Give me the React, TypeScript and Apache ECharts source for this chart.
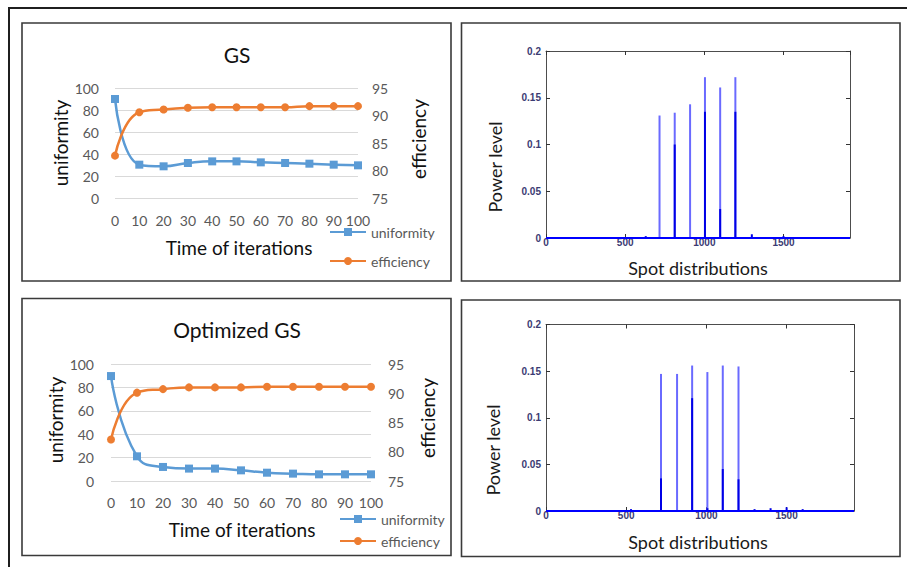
import React, { useEffect, useRef } from "react";
import * as echarts from "echarts";

// ---------- data ----------
const iterations = [0, 10, 20, 30, 40, 50, 60, 70, 80, 90, 100];
const gsUniformity = [90, 30.3, 28.8, 31.8, 33.3, 33.3, 32.4, 31.8, 31.2, 30.3, 29.7];
const gsEfficiency = [82.7, 90.6, 91.1, 91.4, 91.5, 91.5, 91.5, 91.5, 91.7, 91.7, 91.7];
const optUniformity = [89.7, 21.1, 12, 10.6, 10.6, 9.1, 7.1, 6.3, 5.7, 5.7, 5.7];
const optEfficiency = [82.1, 90.1, 90.7, 91.0, 91.0, 91.0, 91.1, 91.1, 91.1, 91.1, 91.1];

const gsSpotX = [717, 813, 910, 1004, 1100, 1196];
const gsSpotTop = [0.131, 0.134, 0.143, 0.172, 0.161, 0.172];
const gsSpotInner = [0, 0.1, 0, 0.135, 0.031, 0.135];
const gsNoiseX = [500, 630, 1300, 1400, 1500, 1600];
const gsNoiseY = [0.001, 0.002, 0.004, 0.001, 0.002, 0.001];

const optSpotX = [717, 817, 911, 1006, 1102, 1200];
const optSpotTop = [0.147, 0.147, 0.156, 0.149, 0.156, 0.155];
const optSpotInner = [0.035, 0, 0.121, 0.003, 0.045, 0.034];
const optNoiseX = [410, 530, 620, 1300, 1400, 1500, 1600];
const optNoiseY = [0.001, 0.002, 0.001, 0.002, 0.003, 0.004, 0.002];

const spotRange = [0, 1920];

// ---------- styles ----------
const FONT = 'Lato, "Liberation Sans", sans-serif';
const MFONT = '"Liberation Sans", Arial, sans-serif';
const BLUE = "#5B9BD5";
const ORANGE = "#ED7D31";
const GRAY = "#595959";
const MLAB = "#3b3b73";

const excelX = (gridIndex: number, margin: number) => ({
  type: "value",
  gridIndex,
  min: 0,
  max: 100,
  interval: 10,
  axisLine: { show: false },
  axisTick: { show: false },
  splitLine: { show: false },
  axisLabel: { color: GRAY, fontSize: 14, fontFamily: FONT, margin },
});
const excelYL = (gridIndex: number, margin: number) => ({
  type: "value",
  gridIndex,
  position: "left",
  min: 0,
  max: 100,
  interval: 20,
  axisLine: { show: false },
  axisTick: { show: false },
  splitLine: { show: true, lineStyle: { color: "#d9d9d9", width: 1 } },
  axisLabel: { color: GRAY, fontSize: 14, fontFamily: FONT, margin },
});
const excelYR = (gridIndex: number, margin: number) => ({
  type: "value",
  gridIndex,
  position: "right",
  min: 75,
  max: 95,
  interval: 5,
  axisLine: { show: false },
  axisTick: { show: false },
  splitLine: { show: false },
  axisLabel: { color: GRAY, fontSize: 14, fontFamily: FONT, margin },
});

const mX = (gridIndex: number, position: string, labels: boolean) => ({
  type: "value",
  gridIndex,
  position,
  min: spotRange[0],
  max: spotRange[1],
  interval: 500,
  axisLine: { show: true, onZero: false, lineStyle: { color: "#4d4d4d", width: 1 } },
  axisTick: { show: true, inside: true, length: 4, lineStyle: { color: "#333" } },
  splitLine: { show: false },
  axisLabel: {
    show: labels,
    color: MLAB,
    fontSize: 10,
    fontWeight: "bold",
    fontFamily: MFONT,
    margin: -1,
    showMaxLabel: false,
    formatter: (v: number) => (v % 500 === 0 ? String(v) : ""),
  },
});
const mY = (gridIndex: number, position: string, labels: boolean) => ({
  type: "value",
  gridIndex,
  position,
  min: 0,
  max: 0.2,
  interval: 0.05,
  axisLine: { show: true, onZero: false, lineStyle: { color: "#4d4d4d", width: 1 } },
  axisTick: { show: true, inside: true, length: 4, lineStyle: { color: "#333" } },
  splitLine: { show: false },
  axisLabel: {
    show: labels,
    color: MLAB,
    fontSize: 10,
    fontWeight: "bold",
    fontFamily: MFONT,
    margin: 5,
  },
});

const lineSeries = (name: string, xi: number, yi: number, ys: number[], color: string, symbol: string) => ({
  type: "line",
  name,
  xAxisIndex: xi,
  yAxisIndex: yi,
  data: iterations.map((x, i) => [x, ys[i]]),
  smooth: 0.5,
  symbol,
  symbolSize: 8,
  lineStyle: { color, width: 2.5 },
  itemStyle: { color },
});

const spotSeries = (xi: number, yi: number, xs: number[], tops: number[], inner: number[], nx: number[], ny: number[]) => [
  {
    type: "bar",
    name: "spot",
    xAxisIndex: xi,
    yAxisIndex: yi,
    barWidth: 2,
    barGap: "-100%",
    data: xs.map((x, i) => [x, tops[i]]),
    itemStyle: { color: "#6a6aff" },
    z: 3,
  },
  {
    type: "bar",
    name: "spot-core",
    xAxisIndex: xi,
    yAxisIndex: yi,
    barWidth: 2,
    barGap: "-100%",
    data: xs.map((x, i) => [x, inner[i]]).concat(nx.map((x, i) => [x, ny[i]])),
    itemStyle: { color: "#0000e6" },
    z: 4,
  },
  {
    type: "line",
    name: "baseline",
    xAxisIndex: xi,
    yAxisIndex: yi,
    data: spotRange.map((x) => [x, 0]),
    symbol: "none",
    lineStyle: { color: "#0000ff", width: 2 },
    z: 5,
  },
];

const txt = (text: string, x: number, y: number, size: number, color: string, rot = 0, font = FONT) => ({
  type: "text",
  x,
  y,
  rotation: rot,
  style: {
    text,
    fill: color,
    fontSize: size,
    fontFamily: font,
    align: "center",
    verticalAlign: "middle",
  },
  z: 10,
});

const box = (x: number, y: number, w: number, h: number) => ({
  type: "rect",
  shape: { x, y, width: w, height: h },
  style: { fill: "none", stroke: "#3a3a3a", lineWidth: 1.6 },
  z: 10,
});

const legendBase = {
  data: ["uniformity", "efficiency"],
  orient: "vertical",
  padding: 0,
  itemWidth: 36,
  itemHeight: 10,
  selectedMode: false,
  textStyle: { color: GRAY, fontSize: 14, fontFamily: FONT },
};

const option: any = {
  animation: false,
  backgroundColor: "#ffffff",
  grid: [
    { left: 115, top: 88, width: 243, height: 110 },
    { left: 111, top: 364, width: 260, height: 117 },
    { left: 546, top: 51, width: 304, height: 187 },
    { left: 546, top: 324.5, width: 308, height: 186.5 },
  ],
  xAxis: [
    excelX(0, 15),
    excelX(1, 14),
    mX(2, "bottom", true),
    mX(2, "top", false),
    mX(3, "bottom", true),
    mX(3, "top", false),
  ],
  yAxis: [
    excelYL(0, 16),
    excelYR(0, 14),
    excelYL(1, 17),
    excelYR(1, 17),
    mY(2, "left", true),
    mY(2, "right", false),
    mY(3, "left", true),
    mY(3, "right", false),
  ],
  legend: [
    { ...legendBase, left: 329, top: 225, itemGap: 15 },
    { ...legendBase, left: 339, top: 512, itemGap: 8 },
  ],
  series: [
    lineSeries("uniformity", 0, 0, gsUniformity, BLUE, "rect"),
    lineSeries("efficiency", 0, 1, gsEfficiency, ORANGE, "circle"),
    lineSeries("uniformity", 1, 2, optUniformity, BLUE, "rect"),
    lineSeries("efficiency", 1, 3, optEfficiency, ORANGE, "circle"),
    ...spotSeries(2, 4, gsSpotX, gsSpotTop, gsSpotInner, gsNoiseX, gsNoiseY),
    ...spotSeries(4, 6, optSpotX, optSpotTop, optSpotInner, optNoiseX, optNoiseY),
  ],
  graphic: [
    { type: "line", shape: { x1: 8, y1: 8, x2: 907, y2: 8 }, style: { stroke: "#1f1f1f", lineWidth: 2 }, z: 10 },
    { type: "line", shape: { x1: 9, y1: 8, x2: 9, y2: 567 }, style: { stroke: "#1f1f1f", lineWidth: 2 }, z: 10 },
    box(22, 23, 429, 258),
    box(461.5, 23, 438.5, 258),
    box(22, 298.5, 429, 257),
    box(461.5, 300, 438.5, 256.5),
    txt("GS", 237, 54, 21, "#111"),
    txt("uniformity", 60, 143, 19, "#111", Math.PI / 2),
    txt("efficiency", 418, 139, 19, "#111", Math.PI / 2),
    txt("Time of iterations", 239, 247, 19, "#111"),
    txt("Optimized GS", 237, 329, 21, "#111"),
    txt("uniformity", 55, 420, 19, "#111", Math.PI / 2),
    txt("efficiency", 427, 418, 19, "#111", Math.PI / 2),
    txt("Time of iterations", 242, 529, 19, "#111"),
    txt("Power level", 495, 167, 18, "#1a1a1a", Math.PI / 2),
    txt("Spot distributions", 698, 268, 18, "#1a1a1a"),
    txt("Power level", 493, 450, 18, "#1a1a1a", Math.PI / 2),
    txt("Spot distributions", 698, 542, 18, "#1a1a1a"),
  ],
};

export default function App() {
  const ref = useRef<HTMLDivElement>(null);
  useEffect(() => {
    if (!ref.current) return;
    const chart = echarts.init(ref.current, null, { renderer: "svg", width: 907, height: 567 });
    chart.setOption(option);
    return () => chart.dispose();
  }, []);
  return (
    <div
      ref={ref}
      style={{ position: "fixed", left: 0, top: 0, width: 907, height: 567, background: "#fff" }}
    />
  );
}
